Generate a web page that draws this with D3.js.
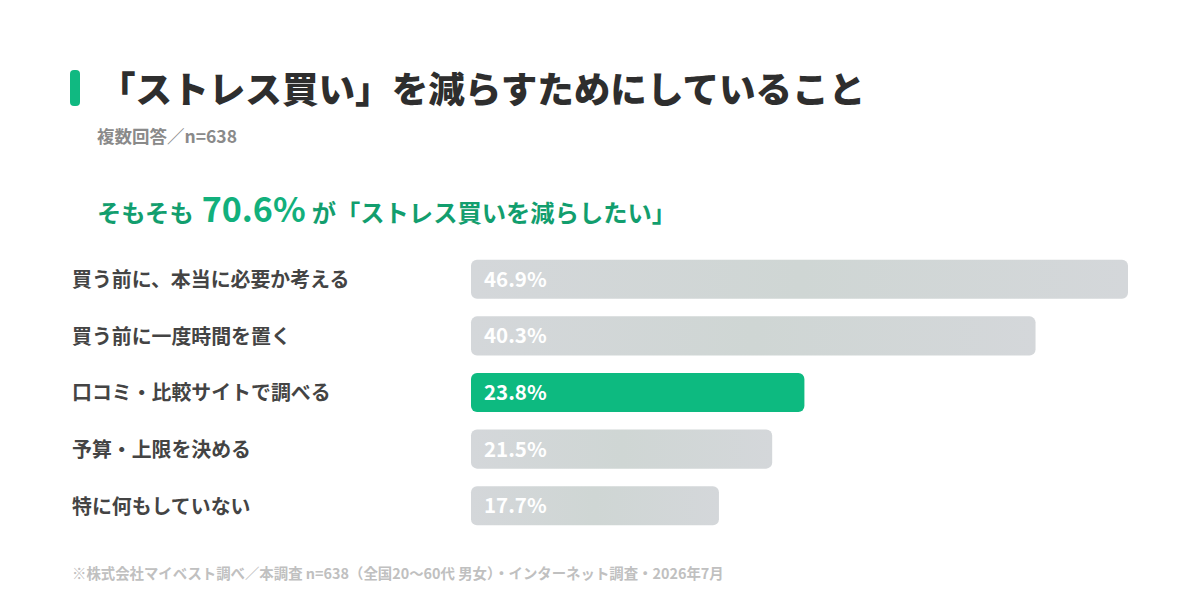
<!DOCTYPE html>
<html lang="ja">
  <head>
    <meta charset="UTF-8" />
    <title>「ストレス買い」を減らすためにしていること</title>
    <script src="https://d3js.org/d3.v7.min.js"></script>
    <style>
      body { margin: 0; background: #fff; }
      svg { font-family: "Noto Sans CJK JP", "Noto Sans", sans-serif; }
    </style>
  </head>
  <body>
    <svg id="chart" width="1200" height="606"></svg>
    <script>
      // data
      const categories = [
        "買う前に、本当に必要か考える",
        "買う前に一度時間を置く",
        "口コミ・比較サイトで調べる",
        "予算・上限を決める",
        "特に何もしていない"
      ];
      const values = [46.9, 40.3, 23.8, 21.5, 17.7];
      const highlight = "口コミ・比較サイトで調べる";

      const svg = d3.select("#chart");

      // header
      svg.append("rect")
        .attr("x", 70).attr("y", 70).attr("width", 10).attr("height", 36)
        .attr("rx", 4).attr("fill", "#10b981");
      svg.append("text")
        .attr("x", 99).attr("y", 103)
        .attr("font-size", 36.6).attr("font-weight", 900).attr("fill", "#2e2e2e")
        .text("「ストレス買い」を減らすためにしていること");
      svg.append("text")
        .attr("x", 97).attr("y", 143)
        .attr("font-size", 17.5).attr("font-weight", 700).attr("fill", "#8a8a8a")
        .text("複数回答／n=638");

      const lead = svg.append("text")
        .attr("x", 97).attr("y", 222)
        .attr("font-weight", 700).attr("fill", "#129e6e");
      lead.append("tspan").attr("font-size", 24.3).text("そもそも");
      lead.append("tspan").attr("font-size", 34).attr("dx", 8).attr("fill", "#12b07c").text("70.6%");
      lead.append("tspan").attr("font-size", 24.3).attr("dx", 6).text("が「ストレス買いを減らしたい」");

      // scales
      const x = d3.scaleLinear()
        .domain([0, d3.max(values)])
        .range([471, 1128]);
      const y = d3.scaleBand()
        .domain(categories)
        .range([251, 534])
        .paddingInner(0.31)
        .paddingOuter(0.155);

      const defs = svg.append("defs");
      const grad = defs.append("linearGradient").attr("id", "grayGrad");
      grad.append("stop").attr("offset", "0%").attr("stop-color", "#d4d7da");
      grad.append("stop").attr("offset", "50%").attr("stop-color", "#cfd6d4");
      grad.append("stop").attr("offset", "100%").attr("stop-color", "#d4d7da");

      const rows = svg.selectAll(".row")
        .data(categories.map((c, i) => ({ cat: c, val: values[i] })))
        .enter().append("g").attr("class", "row");

      rows.append("rect")
        .attr("x", x(0))
        .attr("y", d => y(d.cat))
        .attr("width", d => x(d.val) - x(0))
        .attr("height", y.bandwidth())
        .attr("rx", 6)
        .attr("fill", d => d.cat === highlight ? "#0dba80" : "url(#grayGrad)");

      rows.append("text")
        .attr("x", x(0) + 13)
        .attr("y", d => y(d.cat) + y.bandwidth() / 2)
        .attr("dy", "0.37em")
        .attr("font-size", 20.5).attr("font-weight", 700)
        .attr("fill", "#fff")
        .text(d => d.val.toFixed(1) + "%");

      rows.append("text")
        .attr("x", 72)
        .attr("y", d => y(d.cat) + y.bandwidth() / 2)
        .attr("dy", "0.4em")
        .attr("font-size", 19.9).attr("font-weight", 700)
        .attr("fill", "#444")
        .text(d => d.cat);

      // footer
      svg.append("text")
        .attr("x", 72).attr("y", 579)
        .attr("font-size", 14.4).attr("font-weight", 700).attr("fill", "#c0c0c0")
        .text("※株式会社マイベスト調べ／本調査 n=638（全国20〜60代 男女）・インターネット調査・2026年7月");
    </script>
  </body>
</html>
